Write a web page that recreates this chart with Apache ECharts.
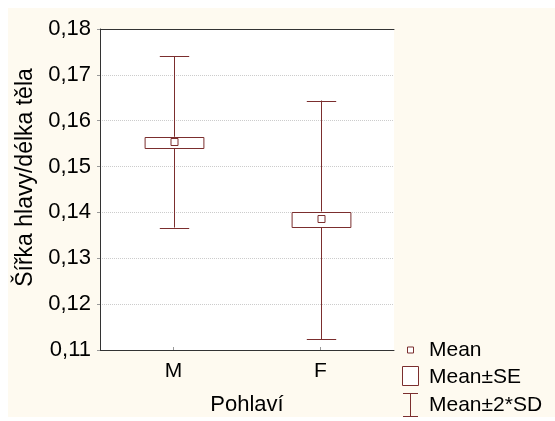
<!DOCTYPE html>
<html>
<head>
<meta charset="utf-8">
<script src="https://cdn.jsdelivr.net/npm/echarts@6/dist/echarts.min.js"></script>
<style>
html,body{margin:0;padding:0;background:#ffffff;}
#bg{position:absolute;left:8px;top:8px;width:547px;height:409px;background:#fefaf0;}
#chart{position:absolute;left:0;top:0;width:555px;height:421px;}
</style>
</head>
<body>
<div id="bg"></div>
<div id="chart"></div>
<script>
const categories = ['M', 'F'];
const means  = [0.1553, 0.1386];
const seLow  = [0.1542, 0.1369];
const seHigh = [0.1565, 0.1402];
const sdLow  = [0.1367, 0.1123];
const sdHigh = [0.1741, 0.1644];
const yTicks = [0.11, 0.12, 0.13, 0.14, 0.15, 0.16, 0.17, 0.18];
const legendLabels = ['Mean', 'Mean\u00b1SE', 'Mean\u00b12*SD'];

const C = '#7b2e2e';
const FONT = 'Liberation Sans, Arial, sans-serif';

const data = categories.map((c, i) => [i, means[i], seLow[i], seHigh[i], sdLow[i], sdHigh[i]]);

const chart = echarts.init(document.getElementById('chart'), null, {renderer: 'canvas'});

function renderItem(params, api) {
  const i = api.value(0);
  const band = api.size([1, 0])[0];
  const pMean = api.coord([i, api.value(1)]);
  const pSeL = api.coord([i, api.value(2)]);
  const pSeH = api.coord([i, api.value(3)]);
  const pSdL = api.coord([i, api.value(4)]);
  const pSdH = api.coord([i, api.value(5)]);
  const x = Math.round(pMean[0]) + 0.5;
  const boxW = band * 0.4;
  const capW = band * 0.2;
  const st = {stroke: C, lineWidth: 1, fill: null};
  return {
    type: 'group',
    children: [
      {type: 'line', shape: {x1: x, y1: pSdH[1], x2: x, y2: pSeH[1]}, style: st},
      {type: 'line', shape: {x1: x, y1: pSeL[1], x2: x, y2: pSdL[1]}, style: st},
      {type: 'line', shape: {x1: x - capW / 2, y1: Math.round(pSdH[1]) + 0.5, x2: x + capW / 2, y2: Math.round(pSdH[1]) + 0.5}, style: st},
      {type: 'line', shape: {x1: x - capW / 2, y1: Math.round(pSdL[1]) + 0.5, x2: x + capW / 2, y2: Math.round(pSdL[1]) + 0.5}, style: st},
      {type: 'rect', shape: {x: x - boxW / 2, y: Math.round(pSeH[1]) + 0.5, width: boxW, height: Math.round(pSeL[1] - pSeH[1])}, style: {stroke: C, lineWidth: 1, fill: '#ffffff'}},
      {type: 'rect', shape: {x: x - 3.5, y: Math.round(pMean[1]) - 3.5, width: 7, height: 7}, style: {stroke: C, lineWidth: 1, fill: '#ffffff'}}
    ]
  };
}

const legendY = [350, 377, 405];
const lx = 410.5;

const option = {
  backgroundColor: 'transparent',
  animation: false,
  textStyle: {fontFamily: FONT},
  grid: {left: 100, top: 29, width: 294, height: 322, containLabel: false, show: true, backgroundColor: '#ffffff', borderWidth: 0},
  xAxis: [{
    type: 'category',
    data: categories,
    name: 'Pohlaví',
    nameLocation: 'middle',
    nameGap: 44,
    nameTextStyle: {fontSize: 22, color: '#000', fontFamily: FONT},
    axisLine: {lineStyle: {color: '#333', width: 1}},
    axisTick: {show: true, alignWithLabel: true, inside: true, length: 3, lineStyle: {color: '#999'}},
    axisLabel: {fontSize: 21, color: '#000', margin: 11, fontFamily: FONT},
    splitLine: {show: false}
  }, {
    type: 'category',
    data: categories,
    position: 'top',
    axisLine: {lineStyle: {color: '#333', width: 1}},
    axisTick: {show: false},
    axisLabel: {show: false}
  }],
  yAxis: {
    type: 'value',
    min: 0.11,
    max: 0.18,
    interval: 0.01,
    name: 'Šířka hlavy/délka těla',
    nameLocation: 'middle',
    nameGap: 58,
    nameTextStyle: {fontSize: 23, color: '#000', fontFamily: FONT, padding: [0, 0, 0, 24]},
    axisLine: {show: true, lineStyle: {color: '#333', width: 1}},
    axisTick: {show: true, length: 3, lineStyle: {color: '#999'}},
    axisLabel: {fontSize: 22, color: '#000', margin: 9, fontFamily: FONT,
      formatter: v => v.toFixed(2).replace('.', ',')},
    splitLine: {show: true, lineStyle: {color: '#cccccc', type: 'dotted', width: 1}}
  },
  series: [{
    type: 'custom',
    renderItem: renderItem,
    encode: {x: 0, y: [1, 2, 3, 4, 5]},
    data: data,
    z: 5
  }],
  graphic: [
    {type: 'rect', shape: {x: lx - 3, y: legendY[0] - 3, width: 6, height: 6}, style: {stroke: C, lineWidth: 1, fill: '#fff'}},
    {type: 'rect', shape: {x: 402.5, y: 366.5, width: 16, height: 19}, style: {stroke: C, lineWidth: 1, fill: '#fff'}},
    {type: 'line', shape: {x1: lx, y1: 393, x2: lx, y2: 417}, style: {stroke: C, lineWidth: 1}},
    {type: 'line', shape: {x1: 403, y1: 393.5, x2: 418, y2: 393.5}, style: {stroke: C, lineWidth: 1}},
    {type: 'line', shape: {x1: 403, y1: 416.5, x2: 418, y2: 416.5}, style: {stroke: C, lineWidth: 1}},
    {type: 'text', x: 429, y: legendY[0], style: {text: legendLabels[0], fontSize: 21, fontFamily: FONT, fill: '#000', verticalAlign: 'middle'}},
    {type: 'text', x: 429, y: legendY[1], style: {text: legendLabels[1], fontSize: 21, fontFamily: FONT, fill: '#000', verticalAlign: 'middle'}},
    {type: 'text', x: 429, y: legendY[2], style: {text: legendLabels[2], fontSize: 21, fontFamily: FONT, fill: '#000', verticalAlign: 'middle'}}
  ]
};
chart.setOption(option);
</script>
</body>
</html>
